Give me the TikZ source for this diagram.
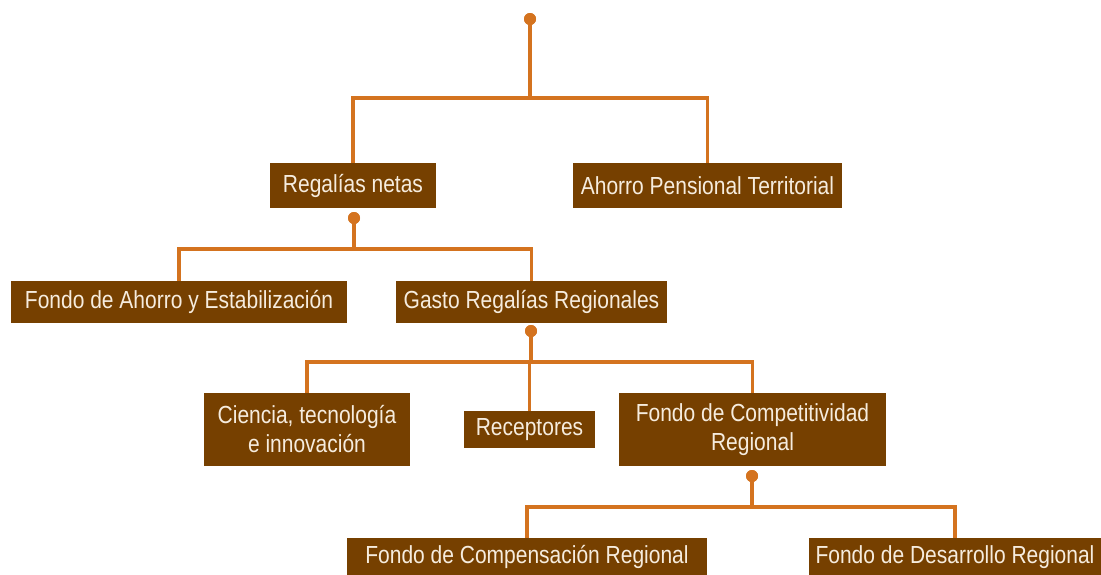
\documentclass[tikz,border=0pt]{standalone}
\usepackage{fontspec}
\setmainfont{Liberation Sans}[FakeStretch=0.85]
\definecolor{boxbrown}{RGB}{118,64,0}
\definecolor{lineor}{RGB}{212,115,31}
\definecolor{txtcream}{RGB}{246,236,222}
\tikzset{
  box/.style={fill=boxbrown, text=txtcream, inner sep=0pt, align=center,
    font=\fontsize{24.7}{29}\selectfont},
  conn/.style={draw=lineor, line width=3.3pt},
  dot/.style={circle, fill=lineor, inner sep=0pt, minimum size=12pt},
}
\begin{document}
\begin{tikzpicture}[x=1pt,y=-1pt]
\useasboundingbox (0,0) rectangle (1101,574);
\clip (0,0) rectangle (1101,574);
% nodes
\node[box, minimum width=166pt, minimum height=45pt] (rn) at (353,185.5) {Regalías netas};
\node[box, minimum width=269pt, minimum height=45pt] (apt) at (707.5,185.5) {Ahorro Pensional Territorial};
\node[box, minimum width=336pt, minimum height=42pt] (fae) at (179,302) {Fondo de Ahorro y Estabilización};
\node[box, minimum width=271pt, minimum height=42pt] (grr) at (531.5,302) {Gasto Regalías Regionales};
\node[box, minimum width=206pt, minimum height=73pt] (cti) at (307,429.5) {Ciencia, tecnología\\e innovación};
\node[box, minimum width=131pt, minimum height=37pt] (rec) at (529.5,429.5) {Receptores};
\node[box, minimum width=267pt, minimum height=73pt] (fcr) at (752.5,429.5) {Fondo de Competitividad\\Regional};
\node[box, minimum width=360pt, minimum height=38pt] (fcomp) at (527,557) {Fondo de Compensación Regional};
\node[box, minimum width=292pt, minimum height=38pt] (fdr) at (955,557) {Fondo de Desarrollo Regional};
% dots
\node[dot] (d1) at (530,19) {};
\node[dot] (d2) at (354,218) {};
\node[dot] (d3) at (531,331) {};
\node[dot] (d4) at (752,476) {};
% junctions
\coordinate (j1) at (530,98);
\coordinate (j2) at (354,249);
\coordinate (j3) at (531,362);
\coordinate (j4) at (752,507);
% connectors
\draw[conn] (d1.center) -- (j1);
\draw[conn] (j1) -| (rn.north);
\draw[conn] (j1) -| (apt.north);
\draw[conn] (d2.center) -- (j2);
\draw[conn] (j2) -| (fae.north);
\draw[conn] (j2) -| (grr.north);
\draw[conn] (d3.center) -- (j3);
\draw[conn] (j3) -| (cti.north);
\draw[conn] (j3) -| (rec.north);
\draw[conn] (j3) -| (fcr.north);
\draw[conn] (d4.center) -- (j4);
\draw[conn] (j4) -| (fcomp.north);
\draw[conn] (j4) -| (fdr.north);
\node[dot] at (d1) {};
\node[dot] at (d2) {};
\node[dot] at (d3) {};
\node[dot] at (d4) {};
\end{tikzpicture}
\end{document}
